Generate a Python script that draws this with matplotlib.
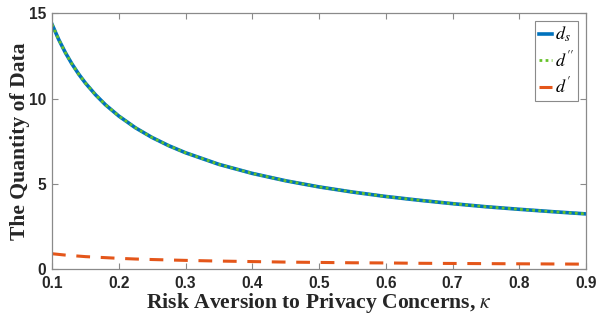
import matplotlib
matplotlib.use("Agg")
import matplotlib.pyplot as plt

# Risk aversion to privacy concerns
kappa = [0.10, 0.11, 0.12, 0.13, 0.14, 0.15, 0.165, 0.18, 0.20, 0.225,
         0.25, 0.275, 0.30, 0.35, 0.40, 0.45, 0.50, 0.55, 0.60, 0.65,
         0.70, 0.75, 0.80, 0.85, 0.90]

# Quantity of data for each solution
d_s = [14.35, 13.46, 12.69, 12.02, 11.43, 10.91, 10.23, 9.64, 8.98, 8.29,
       7.72, 7.24, 6.83, 6.15, 5.62, 5.19, 4.83, 4.53, 4.27, 4.05,
       3.85, 3.67, 3.52, 3.38, 3.25]
d_pp = list(d_s)
d_p = [0.92, 0.88, 0.84, 0.81, 0.78, 0.75, 0.72, 0.69, 0.65, 0.61,
       0.58, 0.555, 0.53, 0.49, 0.46, 0.43, 0.41, 0.39, 0.38, 0.36,
       0.35, 0.34, 0.33, 0.32, 0.31]

x_ticks = [0.1, 0.2, 0.3, 0.4, 0.5, 0.6, 0.7, 0.8, 0.9]
y_ticks = [0, 5, 10, 15]

plt.rcParams["mathtext.fontset"] = "stix"

fig = plt.figure(figsize=(5.97, 3.20), dpi=100)
ax = fig.add_axes([0.0871, 0.158, 0.8945, 0.801])

ax.plot(kappa, d_s, color="#0072BD", lw=2.6, label=r"$d_s$")
ax.plot(kappa, d_pp, color="#66C22A", lw=2.0, ls=(0, (1, 1.2)), label=r"$d''$")
ax.plot(kappa, d_p, color="#E4561A", lw=2.2, ls=(0, (4.5, 3.5)), label=r"$d'$")

ax.set_xlim(0.1, 0.9)
ax.set_ylim(0, 15)
ax.set_xticks(x_ticks)
ax.set_yticks(y_ticks)
ax.set_xticklabels([f"{t:.1f}" for t in x_ticks])
ax.set_yticklabels([str(t) for t in y_ticks])

gray = "#8a8a8a"
for s in ax.spines.values():
    s.set_color(gray)
    s.set_linewidth(0.9)
ax.tick_params(direction="in", top=True, right=True, length=4, width=0.8,
               color=gray, labelcolor="#262626", pad=5)
ax.tick_params(axis="y", pad=4)
for lab in ax.get_xticklabels() + ax.get_yticklabels():
    lab.set_fontfamily("Liberation Sans")
    lab.set_fontweight("bold")
    lab.set_fontsize(11.2)

ax.set_xlabel(r"Risk Aversion to Privacy Concerns, $\kappa$",
              fontfamily="Liberation Serif", fontweight="bold", fontsize=15.6,
              color="#262626", labelpad=0)
ax.set_ylabel("The Quantity of Data", fontfamily="Liberation Serif",
              fontweight="bold", fontsize=15.6, color="#262626")
ax.yaxis.set_label_coords(-0.041, 0.5)

leg = ax.legend(loc="upper right", fontsize=13, handlelength=0.75,
                handletextpad=0.15, labelspacing=0.35, borderpad=0.2,
                borderaxespad=0.45, fancybox=False, framealpha=1)
leg.get_frame().set_edgecolor(gray)
leg.get_frame().set_linewidth(0.8)

fig.savefig("out.png", dpi=100)
